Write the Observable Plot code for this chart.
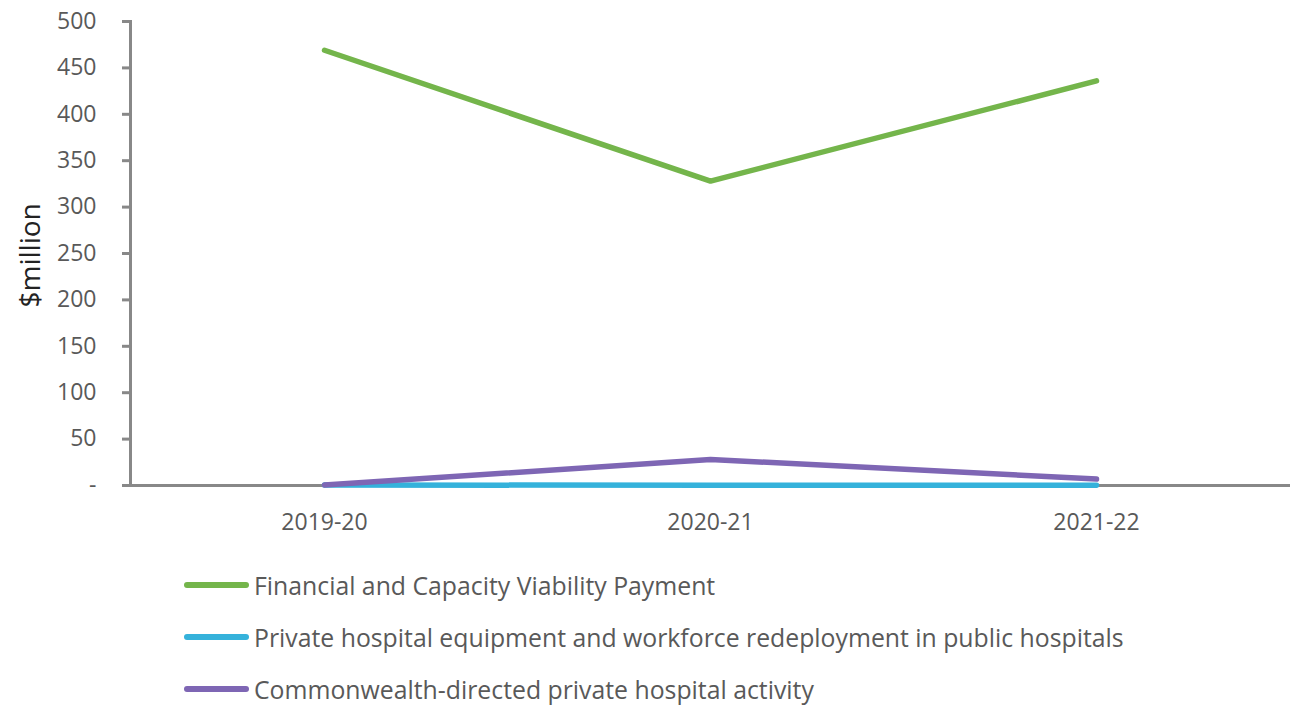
<!DOCTYPE html>
<html>
<head>
<meta charset="utf-8">
<script src="https://cdn.jsdelivr.net/npm/d3@7"></script>
<script src="https://cdn.jsdelivr.net/npm/@observablehq/plot@0.6"></script>
<style>
  body { margin: 0; background: #fff; font-family: "Open Sans", sans-serif; color: #595959; }
  #legend { padding-top: 14px; padding-left: 182px; }
  .row { display: flex; align-items: center; height: 52px; font-size: 24.8px; }
  .row svg { margin-right: 4px; }
</style>
</head>
<body>
<div id="chart"></div>
<div id="legend"></div>
<script>
const years = ["2019-20", "2020-21", "2021-22"];
const seriesNames = [
  "Financial and Capacity Viability Payment",
  "Private hospital equipment and workforce redeployment in public hospitals",
  "Commonwealth-directed private hospital activity"
];
const financialViability = [469, 328, 436];
const equipmentWorkforce = [0.5, 0.3, 0.2];
const commonwealthDirected = [0.5, 28, 7];
const colors = ["#74b54b", "#35b2db", "#7e66b4"];
const yTicks = [0, 50, 100, 150, 200, 250, 300, 350, 400, 450, 500];

const allSeries = [financialViability, equipmentWorkforce, commonwealthDirected];
const data = [];
// draw order: blue first, then purple, then green on top
[1, 2, 0].forEach(si => {
  years.forEach((yr, i) => data.push({series: seriesNames[si], year: yr, value: allSeries[si][i]}));
});

const chart = Plot.plot({
  width: 1305,
  height: 545,
  marginTop: 21,
  marginBottom: 60,
  marginLeft: 130,
  marginRight: 15,
  style: {fontFamily: "Open Sans, sans-serif", fontSize: "23px", color: "#595959", background: "#fff"},
  x: {type: "point", domain: years, padding: 0.5, label: null},
  y: {domain: [0, 500], label: null},
  color: {domain: seriesNames, range: colors},
  marks: [
    Plot.axisY({ticks: yTicks, tickFormat: d => d === 0 ? "-" : d, tickSize: 8, tickPadding: 26, stroke: "#888", strokeWidth: 3, fill: "#595959", fontSize: 23, label: null}),
    Plot.axisX({tickSize: 0, tickPadding: 28, fill: "#595959", fontSize: 23, label: null}),
    Plot.frame({anchor: "left", stroke: "#888", strokeWidth: 3}),
    Plot.ruleY([0], {stroke: "#888", strokeWidth: 3}),
    Plot.line(data, {x: "year", y: "value", z: "series", stroke: "series", strokeWidth: 5.5, strokeLinecap: "round", strokeLinejoin: "round"}),
    Plot.text(["$million"], {frameAnchor: "left", dx: -99, dy: 54, rotate: -90, fontSize: 28, fill: "#222", text: d => d})
  ]
});
document.getElementById("chart").appendChild(chart);

const legend = document.getElementById("legend");
seriesNames.forEach((name, i) => {
  const row = document.createElement("div");
  row.className = "row";
  row.innerHTML = `<svg width="68" height="10"><line x1="5" y1="5" x2="64" y2="5" stroke="${colors[i]}" stroke-width="6" stroke-linecap="round"/></svg><span>${name}</span>`;
  legend.appendChild(row);
});
</script>
</body>
</html>
